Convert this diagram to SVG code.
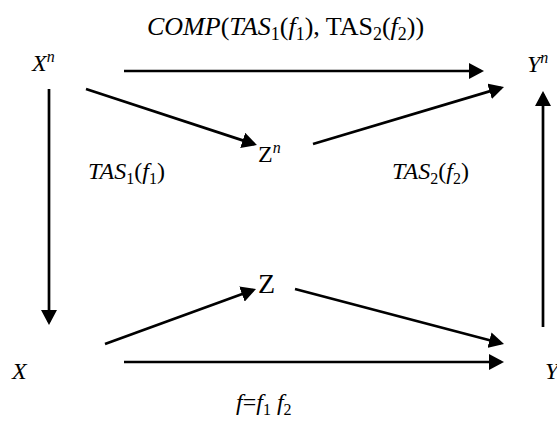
<svg xmlns="http://www.w3.org/2000/svg" width="557" height="424" viewBox="0 0 557 424">
<style>
.t{font-size:24px;fill:#000}
.i{font-style:italic}
.s{font-size:16px}
.c{stroke:#000;stroke-width:2.7;fill:none}
</style>
<defs>
<marker id="ah" viewBox="0 0 15 16" refX="12" refY="8" markerWidth="15" markerHeight="16" markerUnits="userSpaceOnUse" orient="auto">
<path d="M0,0 L15,8 L0,16 z" fill="#000"/>
</marker>
</defs>
<rect width="557" height="424" fill="#fff"/>
<g id="connectors">
<line class="c" x1="124" y1="71" x2="481" y2="71" marker-end="url(#ah)"/>
<line class="c" x1="86" y1="89" x2="254.1" y2="144.1" marker-end="url(#ah)"/>
<line class="c" x1="313" y1="144" x2="501.1" y2="87.9" marker-end="url(#ah)"/>
<line class="c" x1="49" y1="89" x2="49" y2="322" marker-end="url(#ah)"/>
<line class="c" x1="543" y1="327" x2="543" y2="94" marker-end="url(#ah)"/>
<line class="c" x1="105" y1="344" x2="253.2" y2="290" marker-end="url(#ah)"/>
<line class="c" x1="295" y1="289" x2="501.1" y2="343.2" marker-end="url(#ah)"/>
<line class="c" x1="124" y1="362" x2="501" y2="362" marker-end="url(#ah)"/>
</g>
<g font-family="'Liberation Serif', 'Times New Roman', serif">
<g id="title">
<text class="t" x="147" y="35" style="font-size:26px"><tspan class="i">COMP</tspan>(<tspan class="i">TAS</tspan><tspan dy="5" style="font-size:18px">1</tspan><tspan dy="-5">(</tspan><tspan class="i">f</tspan><tspan dy="5" style="font-size:18px">1</tspan><tspan dy="-5">), TAS</tspan><tspan dy="5" style="font-size:18px">2</tspan><tspan dy="-5">(</tspan><tspan class="i">f</tspan><tspan dy="5" style="font-size:18px">2</tspan><tspan dy="-5">))</tspan></text>
</g>
<g id="node-Xn">
<text class="t i" x="32" y="71">X<tspan class="s" dy="-9">n</tspan></text>
</g>
<g id="node-Yn">
<text class="t i" x="527" y="72">Y<tspan class="s" dy="-9">n</tspan></text>
</g>
<g id="node-Zn">
<text class="t" x="258" y="162">Z<tspan class="s i" dy="-9">n</tspan></text>
</g>
<g id="node-Z">
<text class="t" x="258" y="293" style="font-size:28px">Z</text>
</g>
<g id="node-X">
<text class="t i" x="12" y="379">X</text>
</g>
<g id="node-Y">
<text class="t i" x="545" y="379">Y</text>
</g>
<g id="labels">
<text class="t" x="88" y="179"><tspan class="i">TAS</tspan><tspan class="s" dy="5">1</tspan><tspan dy="-5">(</tspan><tspan class="i">f</tspan><tspan class="s" dy="5">1</tspan><tspan dy="-5">)</tspan></text>
<text class="t" x="392" y="179"><tspan class="i">TAS</tspan><tspan class="s" dy="5">2</tspan><tspan dy="-5">(</tspan><tspan class="i">f</tspan><tspan class="s" dy="5">2</tspan><tspan dy="-5">)</tspan></text>
<text class="t" x="236" y="410"><tspan class="i">f</tspan>=<tspan class="i">f</tspan><tspan class="s" dy="5">1</tspan><tspan class="i" dy="-5" dx="6">f</tspan><tspan class="s" dy="5">2</tspan></text>
</g>
</g>
</svg>
